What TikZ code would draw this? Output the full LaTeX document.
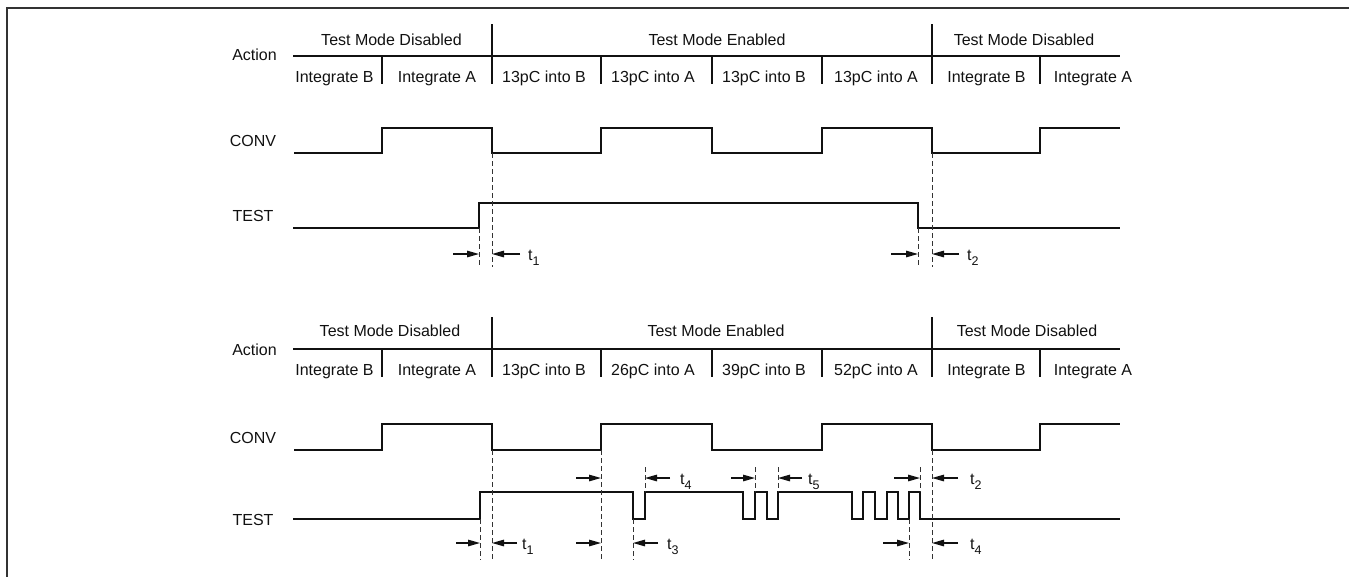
\documentclass[tikz,border=0pt]{standalone}
\usepackage{fontspec}
\setmainfont{Liberation Sans}
\usetikzlibrary{arrows.meta}
\definecolor{ink}{HTML}{111111}
\definecolor{framec}{HTML}{333333}
\newcommand\tmark[4]{%
  \coordinate (#1-s) at (#2,#4);
  \coordinate (#1-e) at (#3,#4);
  \draw[meas] (#1-s) -- (#1-e);}
\newcommand\tlab[4]{%
  \node[tl] (#1) at (#2,#3+6) {t\raisebox{-5pt}{\fontsize{12.5}{13}\selectfont #4}};}
\begin{document}
\begin{tikzpicture}[x=1pt,y=-1pt,
  sig/.style={line width=2.4pt, line join=miter, draw=ink},
  hdr/.style={line width=2.2pt, draw=ink},
  guide/.style={line width=1pt, dash pattern=on 5pt off 3pt, draw=framec},
  meas/.style={line width=1.3pt, draw=ink, -{Triangle[length=12pt,width=6.5pt]}},
  lbl/.style={anchor=base, inner sep=0pt, font=\fontsize{16}{19}\selectfont, text=ink},
  tl/.style={anchor=base west, inner sep=0pt, font=\fontsize{16}{19}\selectfont, text=ink},
  framel/.style={line width=2.6pt, draw=framec}]
\useasboundingbox (0,0) rectangle (1349,576);
% frame
\draw[framel] (7,580) -- (7,8) -- (1352,8);

% ================= TOP =================
\draw[hdr] (293,56) -- (1120,56);
\draw[hdr] (492,24) -- (492,84);
\draw[hdr] (932,24) -- (932,84);
\foreach \xx in {382,601,712,822,1040} \draw[hdr] (\xx,56) -- (\xx,84);
\node[lbl] (act1) at (254.5,60) {Action};
\node[lbl] (sd1) at (391.5,45.5) {Test Mode Disabled};
\node[lbl] (se1) at (717,45.5) {Test Mode Enabled};
\node[lbl] (sd2) at (1024,45.5) {Test Mode Disabled};
\node[lbl] (a11) at (334.5,82) {Integrate B};
\node[lbl] (a12) at (437,82) {Integrate A};
\node[lbl] (a13) at (544,82) {13pC into B};
\node[lbl] (a14) at (653,82) {13pC into A};
\node[lbl] (a15) at (764,82) {13pC into B};
\node[lbl] (a16) at (876,82) {13pC into A};
\node[lbl] (a17) at (986.5,82) {Integrate B};
\node[lbl] (a18) at (1093,82) {Integrate A};
\node[lbl] (conv1) at (253,146) {CONV};
\node[lbl] (test1) at (253,221) {TEST};

\draw[sig] (294,153) -| (382,128) -| (492,153) -| (601,128) -| (712,153) -| (822,128) -| (932,153) -| (1040,128) -- (1120,128);
\draw[sig] (293,228) -| (479,203) -| (918,228) -- (1120,228);

\draw[guide] (479,228) -- (479,267);
\draw[guide] (492,153) -- (492,267);
\draw[guide] (918,228) -- (918,267);
\draw[guide] (932,153) -- (932,267);

\tmark{m1}{453}{479}{254}
\tmark{m2}{520}{492}{254}
\tlab{t1a}{528}{254}{1}
\tmark{m3}{891}{918}{254}
\tmark{m4}{959}{932}{254}
\tlab{t2a}{967}{254}{2}

% ================= BOTTOM =================
\draw[hdr] (293,349) -- (1120,349);
\draw[hdr] (492,317) -- (492,377);
\draw[hdr] (932,317) -- (932,377);
\foreach \xx in {382,601,712,822,1040} \draw[hdr] (\xx,349) -- (\xx,377);
\node[lbl] (act2) at (254.5,355) {Action};
\node[lbl] (sd3) at (390,336) {Test Mode Disabled};
\node[lbl] (se2) at (716,336) {Test Mode Enabled};
\node[lbl] (sd4) at (1027,336) {Test Mode Disabled};
\node[lbl] (a21) at (334.5,375) {Integrate B};
\node[lbl] (a22) at (437,375) {Integrate A};
\node[lbl] (a23) at (544,375) {13pC into B};
\node[lbl] (a24) at (653,375) {26pC into A};
\node[lbl] (a25) at (764,375) {39pC into B};
\node[lbl] (a26) at (876,375) {52pC into A};
\node[lbl] (a27) at (986.5,375) {Integrate B};
\node[lbl] (a28) at (1093,375) {Integrate A};
\node[lbl] (conv2) at (253,443) {CONV};
\node[lbl] (test2) at (253,525) {TEST};

\draw[sig] (294,450) -| (382,424) -| (492,450) -| (601,424) -| (712,450) -| (822,424) -| (932,450) -| (1040,424) -- (1120,424);
\draw[sig] (293,519) -| (480,492) -| (633,519) -| (645,492) -| (743,519) -| (755,492) -| (767,519) -| (778,492)
   -| (852,519) -| (863,492) -| (875,519) -| (887,492) -| (898,519) -| (909,492) -| (920,519) -- (1120,519);

\draw[guide] (480,519) -- (480,560);
\draw[guide] (492,450) -- (492,560);
\draw[guide] (601,450) -- (601,560);
\draw[guide] (633,519) -- (633,560);
\draw[guide] (645,467) -- (645,492);
\draw[guide] (755,467) -- (755,492);
\draw[guide] (778,467) -- (778,492);
\draw[guide] (909,519) -- (909,560);
\draw[guide] (920,467) -- (920,492);
\draw[guide] (932,450) -- (932,560);

\tmark{b1}{456}{480}{543}
\tmark{b2}{517}{492}{543}
\tlab{t1b}{522}{543}{1}
\tmark{b3}{576}{601}{543}
\tmark{b4}{658}{633}{543}
\tlab{t3b}{667}{543}{3}
\tmark{b5}{576}{601}{478}
\tmark{b6}{670}{645}{478}
\tlab{t4b}{680}{478}{4}
\tmark{b7}{731}{755}{478}
\tmark{b8}{802}{778}{478}
\tlab{t5b}{808}{478}{5}
\tmark{b9}{894}{920}{478}
\tmark{b10}{958}{932}{478}
\tlab{t2b}{970}{478}{2}
\tmark{b11}{883}{909}{543}
\tmark{b12}{958}{932}{543}
\tlab{t4c}{970}{543}{4}
\end{tikzpicture}
\end{document}
